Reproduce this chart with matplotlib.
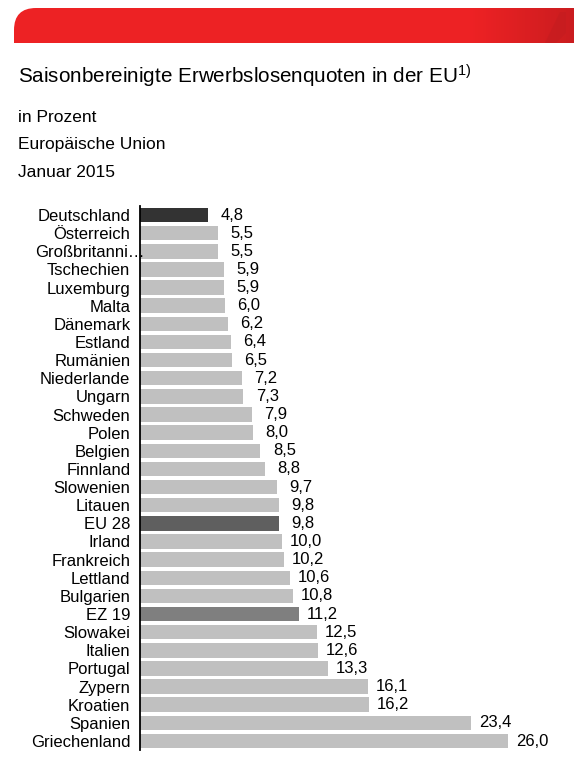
import matplotlib
matplotlib.use("Agg")
import matplotlib.pyplot as plt
from matplotlib.patches import PathPatch, Polygon
from matplotlib.path import Path
import matplotlib.transforms as mtransforms
import numpy as np

plt.rcParams['font.family'] = ['Liberation Sans', 'DejaVu Sans']
plt.rcParams['mathtext.fontset'] = 'custom'
plt.rcParams['mathtext.rm'] = 'Liberation Sans'
plt.rcParams['mathtext.it'] = 'Liberation Sans'

countries = ["Deutschland", "Österreich", "Großbritanni…", "Tschechien", "Luxemburg",
             "Malta", "Dänemark", "Estland", "Rumänien", "Niederlande", "Ungarn",
             "Schweden", "Polen", "Belgien", "Finnland", "Slowenien", "Litauen",
             "EU 28", "Irland", "Frankreich", "Lettland", "Bulgarien", "EZ 19",
             "Slowakei", "Italien", "Portugal", "Zypern", "Kroatien", "Spanien",
             "Griechenland"]
values = [4.8, 5.5, 5.5, 5.9, 5.9, 6.0, 6.2, 6.4, 6.5, 7.2, 7.3, 7.9, 8.0, 8.5,
          8.8, 9.7, 9.8, 9.8, 10.0, 10.2, 10.6, 10.8, 11.2, 12.5, 12.6, 13.3,
          16.1, 16.2, 23.4, 26.0]
highlight = {"Deutschland": "#333333", "EU 28": "#5f5f5f", "EZ 19": "#7f7f7f"}
title = "Saisonbereinigte Erwerbslosenquoten in der EU"
subtitles = ["in Prozent", "Europäische Union", "Januar 2015"]

W, H = 574, 765
fig = plt.figure(figsize=(W / 100, H / 100), dpi=100)

def fx(x):
    return x / W

def fy(y):
    return 1 - y / H

# red banner with rounded top-left corner
bg = fig.add_axes([0, 0, 1, 1])
bg.set_xlim(0, W)
bg.set_ylim(H, 0)
bg.axis('off')
x0, y0, y1, r = 14, 8, 43, 22
verts = [(x0, y1), (x0, y0 + r), (x0, y0), (x0 + r, y0), (W, y0), (W, y1), (x0, y1)]
codes = [Path.MOVETO, Path.LINETO, Path.CURVE3, Path.CURVE3, Path.LINETO, Path.LINETO, Path.CLOSEPOLY]
bg.add_patch(PathPatch(Path(verts, codes), facecolor="#ed2224", edgecolor="none"))
n = 40
for i in range(n):
    xa = 470 + i * (W - 470) / n
    t = i / n
    c = (0.93 - 0.14 * t, 0.13 - 0.02 * t, 0.14 - 0.02 * t)
    bg.add_patch(Polygon([(xa, y0), (xa + (W - 470) / n + 0.5, y0),
                          (xa + (W - 470) / n + 0.5, y1), (xa, y1)],
                         facecolor=c, edgecolor="none"))
bg.add_patch(Polygon([(545, y1), (560, y0 + 4), (566, y0 + 4), (566, y1 - 10), (556, y1)],
                     facecolor="#c41c1f", edgecolor="none", alpha=0.6))

fig.text(fx(18), fy(84), title + r"$^{1)}$", fontsize=14.9, va='baseline', ha='left')
for s, yb in zip(subtitles, [122, 149, 177]):
    fig.text(fx(18), fy(yb), s, fontsize=12.5, va='baseline', ha='left')

# chart axes
n_bars = len(values)
y_first, y_last = 215, 741
step = (y_last - y_first) / (n_bars - 1)
top = y_first - 0.5 * step
bottom = y_last + 0.5 * step
left = 140
px_per_unit = (508 - 140) / 26.0
xmax = 30
ax = fig.add_axes([fx(left), fy(bottom), xmax * px_per_unit / W, (bottom - top) / H])
ypos = np.arange(n_bars)
colors = [highlight.get(c, "#c0c0c0") for c in countries]
ax.barh(ypos, values, height=0.8, color=colors, edgecolor="none")
ax.set_ylim(n_bars - 0.5, -0.5)
ax.set_xlim(0, xmax)
ax.set_yticks(ypos)
ax.set_yticklabels(countries, fontsize=12)
ax.tick_params(axis='y', length=0, pad=7)
ax.set_xticks([])
for sp in ['top', 'right', 'bottom']:
    ax.spines[sp].set_visible(False)
ax.spines['left'].set_linewidth(1.3)
ax.spines['left'].set_color('black')
# truncated label overflows past the axis as in the original
for lbl in ax.get_yticklabels():
    if lbl.get_text().endswith("…"):
        lbl.set_transform(lbl.get_transform() +
                          mtransforms.ScaledTranslation(14 / 100, 0, fig.dpi_scale_trans))
for yv, v in zip(ypos, values):
    ax.annotate(f"{v:.1f}".replace('.', ','), (v, yv), xytext=(24, 0),
                textcoords='offset pixels', va='center', ha='center', fontsize=12)

fig.savefig("out.png", dpi=100)
